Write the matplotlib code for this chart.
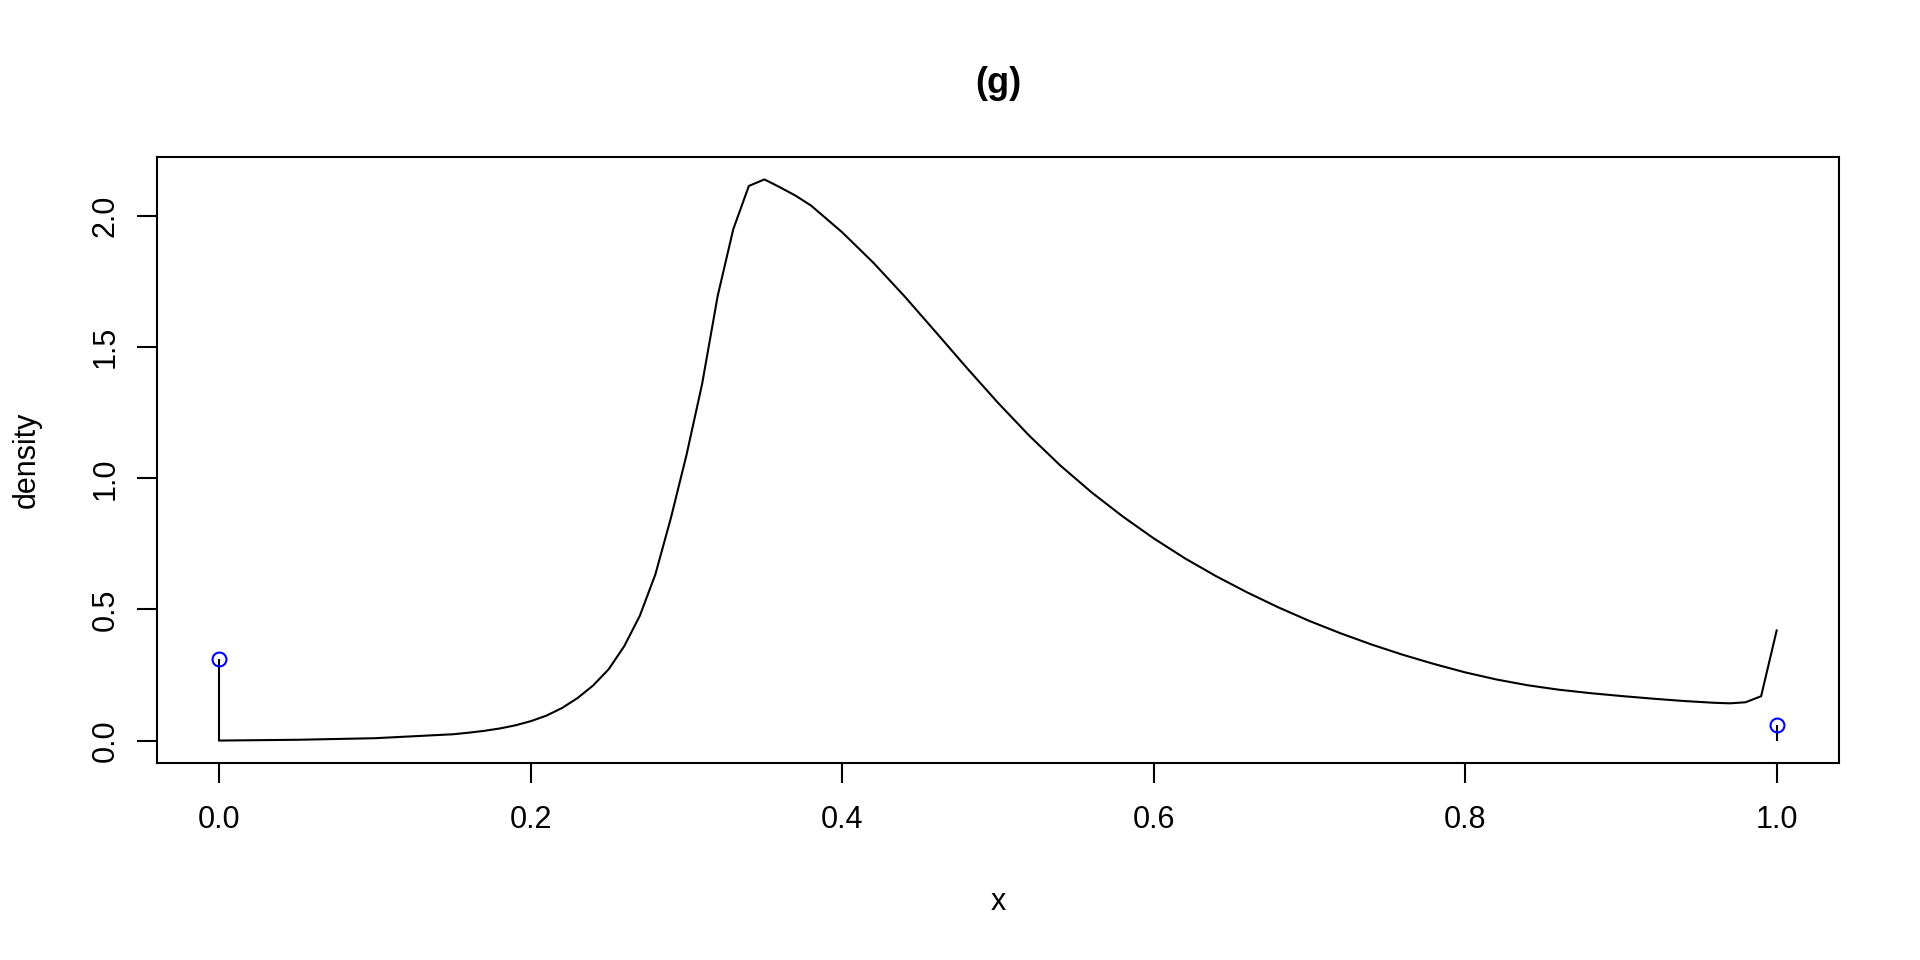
#!/usr/bin/env python
import numpy as np
import matplotlib
matplotlib.use("Agg")
import matplotlib.pyplot as plt

# continuous part of the density
x_vals = [0.00, 0.05, 0.10, 0.15, 0.16, 0.17, 0.18, 0.19, 0.20, 0.21,
          0.22, 0.23, 0.24, 0.25, 0.26, 0.27, 0.28, 0.29, 0.30, 0.31,
          0.32, 0.33, 0.34, 0.35, 0.36, 0.37, 0.38, 0.40, 0.42, 0.44,
          0.46, 0.48, 0.50, 0.52, 0.54, 0.56, 0.58, 0.60, 0.62, 0.64,
          0.66, 0.68, 0.70, 0.72, 0.74, 0.76, 0.78, 0.80, 0.82, 0.84,
          0.86, 0.88, 0.90, 0.92, 0.94, 0.96, 0.97, 0.98, 0.99, 1.00]
dens_vals = [0.000, 0.003, 0.009, 0.024, 0.030, 0.037, 0.046, 0.058, 0.074, 0.095,
             0.124, 0.162, 0.210, 0.272, 0.360, 0.476, 0.634, 0.850, 1.090, 1.360,
             1.696, 1.950, 2.115, 2.140, 2.110, 2.078, 2.040, 1.938, 1.822, 1.694,
             1.558, 1.421, 1.288, 1.163, 1.049, 0.947, 0.855, 0.771, 0.695, 0.627,
             0.565, 0.508, 0.456, 0.409, 0.366, 0.327, 0.292, 0.260, 0.233, 0.211,
             0.194, 0.181, 0.170, 0.160, 0.151, 0.144, 0.142, 0.146, 0.169, 0.420]

# point masses at the boundaries
mass_x = [0.0, 1.0]
mass_p = [0.31, 0.061]

x_ticks = [0.0, 0.2, 0.4, 0.6, 0.8, 1.0]
y_ticks = [0.0, 0.5, 1.0, 1.5, 2.0]

plt.rcParams["font.family"] = ["Liberation Sans", "DejaVu Sans"]

fig = plt.figure(figsize=(19.2, 9.6), dpi=100)
ax = fig.add_axes([0.0818, 0.2052, 0.876, 0.6313])

ax.plot(x_vals, dens_vals, color="black", linewidth=1.5)
ax.vlines(mass_x, 0, mass_p, color="black", linewidth=1.5)
ax.plot(mass_x, mass_p, linestyle="none", marker="o", markersize=10,
        markerfacecolor="none", markeredgecolor="blue", markeredgewidth=1.5)

ax.margins(x=0.04, y=0.04)

ax.set_xticks(x_ticks)
ax.set_xticklabels([f"{v:.1f}" for v in x_ticks])
ax.set_yticks(y_ticks)
ax.set_yticklabels([f"{v:.1f}" for v in y_ticks], rotation=90, va="center")

ax.tick_params(axis="both", direction="out", length=14.4, width=1.5,
               labelsize=22, color="black")
ax.tick_params(axis="x", pad=16)
ax.tick_params(axis="y", pad=12)
for sp in ax.spines.values():
    sp.set_linewidth(1.5)

ax.set_xlabel("x", fontsize=22, va="center")
ax.xaxis.set_label_coords(0.5, -0.229)
ax.set_ylabel("density", fontsize=22, va="center")
ax.yaxis.set_label_coords(-0.0773, 0.5)

fig.suptitle("(g)", x=0.5198, y=0.9135, va="center", fontsize=26, fontweight="bold")

plt.savefig("out.png", dpi=100)
plt.close()
